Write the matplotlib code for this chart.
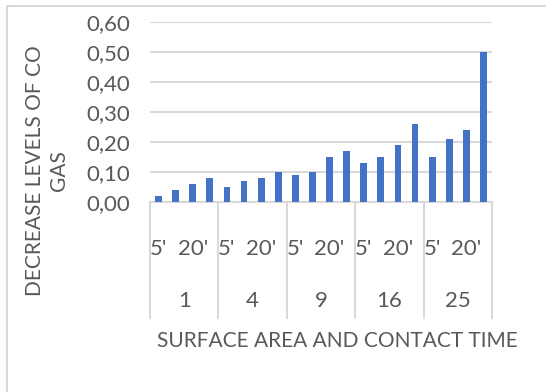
import matplotlib.pyplot as plt
import matplotlib.transforms as mtransforms
from matplotlib.patches import Rectangle
from matplotlib.ticker import FuncFormatter

plt.rcParams['font.family'] = ['Lato', 'DejaVu Sans']

areas = ['1', '4', '9', '16', '25']
time_labels = ["5'", "", "20'", ""]
values = [0.02, 0.04, 0.06, 0.08,
          0.05, 0.07, 0.08, 0.10,
          0.09, 0.10, 0.15, 0.17,
          0.13, 0.15, 0.19, 0.26,
          0.15, 0.21, 0.24, 0.50]

blue = '#4472C4'
grid = '#D9D9D9'
txt = '#595959'

W, H = 546, 392
fig = plt.figure(figsize=(W / 100, H / 100), dpi=100)
ax = fig.add_axes([150 / W, 1 - 202 / H, 342 / W, 180 / H])

n = len(time_labels)
x = list(range(len(values)))
ax.bar(x, values, width=0.4, color=blue, zorder=3)

ax.set_xlim(-0.5, len(values) - 0.5)
ax.set_ylim(0, 0.6)
ax.set_yticks([i / 10 for i in range(7)])
ax.yaxis.set_major_formatter(FuncFormatter(lambda v, p: f'{v:.2f}'.replace('.', ',')))
ax.tick_params(axis='y', length=0, labelsize=16, labelcolor=txt, pad=14)
ax.set_xticks([])
ax.grid(axis='y', color=grid, linewidth=1.5, zorder=0)
for s in ['top', 'right', 'left']:
    ax.spines[s].set_visible(False)
ax.spines['bottom'].set_color(grid)
ax.spines['bottom'].set_linewidth(1.5)

# multi-level category axis
trans = mtransforms.blended_transform_factory(ax.transData, ax.transAxes)
for g in range(len(areas) + 1):
    xs = g * n - 0.5
    ax.plot([xs, xs], [0, -0.645], transform=trans, color=grid, lw=1.5, clip_on=False)
for g, area in enumerate(areas):
    for k, lab in enumerate(time_labels):
        if lab:
            ax.text(g * n + k, -0.26, lab, transform=trans, ha='center', va='center',
                    fontsize=16, color=txt)
    ax.text(g * n + (n - 1) / 2, -0.55, area, transform=trans, ha='center', va='center',
            fontsize=16, color=txt)

fig.text(337 / W, 1 - 341 / H, 'SURFACE AREA AND CONTACT TIME', ha='center', va='center',
         fontsize=15, color=txt)
fig.text(47 / W, 1 - 171 / H, 'DECREASE LEVELS OF CO\nGAS', ha='center', va='center',
         rotation=90, fontsize=15, color=txt, linespacing=1.25)

fig.add_artist(Rectangle((7 / W, -0.1), 1.2, 1 - 6 / H + 0.1, transform=fig.transFigure,
                         fill=False, edgecolor=grid, linewidth=1.5))

fig.savefig('out.png', dpi=100)
